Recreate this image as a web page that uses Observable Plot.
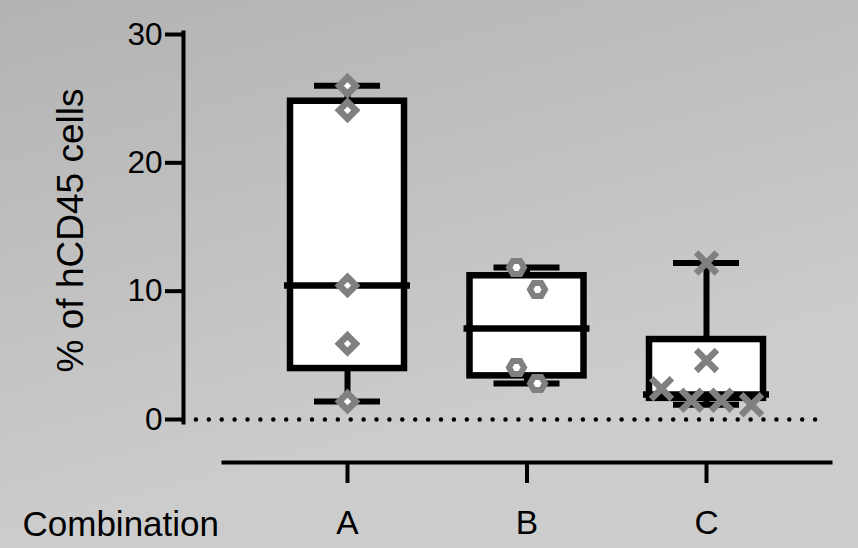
<!DOCTYPE html>
<html>
<head>
<meta charset="utf-8">
<script src="https://cdn.jsdelivr.net/npm/d3@7"></script>
<script src="https://cdn.jsdelivr.net/npm/@observablehq/plot@0.6"></script>
<style>
  html, body { margin: 0; padding: 0; }
  body {
    width: 858px; height: 548px; overflow: hidden;
    background: linear-gradient(165deg, #b3b3b3 0%, #cccccc 70%, #cdcdcd 100%);
  }
</style>
</head>
<body>
<div id="chart"></div>
<script>
// ---- data ----
const categories = ["A", "B", "C"];
const valuesA = [26.0, 24.1, 10.45, 5.9, 1.4];
const valuesB = [11.85, 10.13, 4.05, 2.8];
const valuesC = [12.2, 4.6, 2.4, 1.5, 1.5, 1.15];
const q1 = [3.97, 3.4, 1.65];
const medians = [10.45, 7.1, 1.95];
const q3 = [24.8, 11.2, 6.23];
const whiskerMin = [1.4, 2.8, 1.15];
const whiskerMax = [26.0, 11.85, 12.2];
const yTicks = [0, 10, 20, 30];
const yLabel = "% of hCD45 cells";
const xLabel = "Combination";

// ---- layout / style ----
const W = 858, H = 548;
const xRange = [347, 706];
const yRange = [419, 34];
const pxPerUnit = (xRange[1] - xRange[0]) / 2;
const boxHalf = 57 / pxPerUnit;
const capHalf = 33 / pxPerUnit;
const medHalf = 63 / pxPerUnit;
const gray = "#808080";
const jitterStep = [21, 21, 30];
const yPxPerUnit = (yRange[0] - yRange[1]) / 30;

const stats = categories.map((c, i) => ({
  i, q1: q1[i], median: medians[i], q3: q3[i], min: whiskerMin[i], max: whiskerMax[i]
}));

// scatter offsets: points closer than a symbol height are spread sideways
function offsets(values, step) {
  const order = values.map((v, k) => k).sort((a, b) => values[b] - values[a]);
  const out = new Array(values.length).fill(0);
  let cluster = [order[0]];
  const flush = () => {
    const n = cluster.length;
    cluster.forEach((k, j) => { out[k] = (j - (n - 1) / 2) * step; });
  };
  for (let j = 1; j < order.length; j++) {
    const prev = order[j - 1], cur = order[j];
    if ((values[prev] - values[cur]) * yPxPerUnit < 23) cluster.push(cur);
    else { flush(); cluster = [cur]; }
  }
  flush();
  return out;
}

function pointsFor(values, i) {
  const off = offsets(values, jitterStep[i]);
  return values.map((v, k) => ({x: i + off[k] / pxPerUnit, y: v}));
}

const ptsA = pointsFor(valuesA, 0);
const ptsB = pointsFor(valuesB, 1);
const ptsC = pointsFor(valuesC, 2);

// custom symbols (r = sqrt(size / PI))
const diamondSym = {draw(ctx, size) {
  const r = Math.sqrt(size / Math.PI);
  ctx.moveTo(0, -r); ctx.lineTo(r, 0); ctx.lineTo(0, r); ctx.lineTo(-r, 0); ctx.closePath();
}};
const hexSym = {draw(ctx, size) {
  const r = Math.sqrt(size / Math.PI);
  const h = r * Math.sqrt(3) / 2;
  ctx.moveTo(r, 0); ctx.lineTo(r / 2, h); ctx.lineTo(-r / 2, h);
  ctx.lineTo(-r, 0); ctx.lineTo(-r / 2, -h); ctx.lineTo(r / 2, -h); ctx.closePath();
}};
const timesSym = {draw(ctx, size) {
  const r = Math.sqrt(size / Math.PI);
  ctx.moveTo(-r, -r); ctx.lineTo(r, r); ctx.moveTo(-r, r); ctx.lineTo(r, -r);
}};

const chart = Plot.plot({
  width: W,
  height: H,
  marginLeft: 183,
  marginRight: 28,
  marginTop: 34,
  marginBottom: 86,
  style: {background: "transparent", fontFamily: "'Liberation Sans', Arial, Helvetica, sans-serif", color: "black"},
  x: {domain: [0, 2], range: xRange},
  y: {domain: [0, 30], range: yRange},
  marks: [
    Plot.ruleY([0], {strokeDasharray: "0 12.9", strokeLinecap: "round", strokeWidth: 4.5, insetRight: 14}),
    Plot.frame({anchor: "left", insetBottom: 40, insetTop: -2, strokeWidth: 4}),
    Plot.frame({anchor: "bottom", insetLeft: 40, strokeWidth: 4}),
    Plot.axisY(yTicks, {tickSize: 18, tickPadding: 3, fontSize: 31.5, strokeWidth: 4, label: null, tickFormat: d => String(d)}),
    Plot.axisX([0, 1, 2], {tickSize: 21, tickPadding: 27, fontSize: 33.5, strokeWidth: 4, label: null, tickFormat: i => categories[i]}),
    Plot.text([yLabel], {frameAnchor: "left", rotate: -90, dx: -101, dy: -18, lineAnchor: "bottom", textAnchor: "middle", fontSize: 37}),
    Plot.text([xLabel], {frameAnchor: "bottom-left", textAnchor: "start", lineAnchor: "bottom", dx: -161, dy: 73, fontSize: 35}),
    // whiskers
    Plot.ruleX(stats, {x: "i", y1: "q3", y2: "max", strokeWidth: 6}),
    Plot.ruleX(stats, {x: "i", y1: "min", y2: "q1", strokeWidth: 6}),
    // boxes
    Plot.rect(stats, {x1: d => d.i - boxHalf, x2: d => d.i + boxHalf, y1: "q1", y2: "q3", fill: "white", stroke: "black", strokeWidth: 6.5}),
    // medians
    Plot.ruleY(stats, {y: "median", x1: d => d.i - medHalf, x2: d => d.i + medHalf, strokeWidth: 6.5}),
    // caps
    Plot.ruleY(stats, {y: "max", x1: d => d.i - capHalf, x2: d => d.i + capHalf, strokeWidth: 6}),
    Plot.ruleY(stats, {y: "min", x1: d => d.i - capHalf, x2: d => d.i + capHalf, strokeWidth: 6}),
    // points
    Plot.dot(ptsA, {x: "x", y: "y", symbol: diamondSym, r: 8.3, fill: "white", stroke: gray, strokeWidth: 6.6}),
    Plot.dot(ptsB, {x: "x", y: "y", symbol: hexSym, r: 7.5, fill: "white", stroke: gray, strokeWidth: 6}),
    Plot.dot(ptsC, {x: "x", y: "y", symbol: timesSym, r: 10.4, fill: "none", stroke: gray, strokeWidth: 6.5})
  ]
});
document.getElementById("chart").appendChild(chart);
</script>
</body>
</html>
